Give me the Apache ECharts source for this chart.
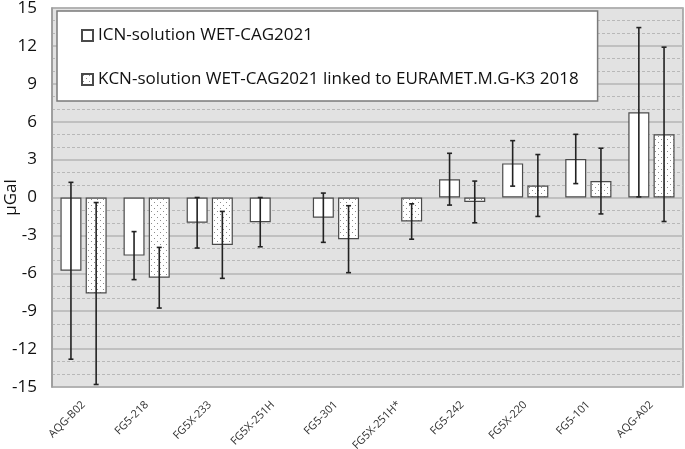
<!DOCTYPE html>
<html>
<head>
<meta charset="utf-8">
<script src="https://cdn.jsdelivr.net/npm/echarts@6/dist/echarts.min.js"></script>
<style>
  html, body { margin: 0; padding: 0; background: #fff; }
  #chart { width: 685px; height: 449px; }
</style>
</head>
<body>
<div id="chart"></div>
<script>
// gravimeters
const categories = ['AQG-B02', 'FG5-218', 'FG5X-233', 'FG5X-251H', 'FG5-301', 'FG5X-251H*', 'FG5-242', 'FG5X-220', 'FG5-101', 'AQG-A02'];
// ICN solution: offsets and uncertainties (µGal)
const icnValues = [-5.8, -4.6, -2.0, -1.95, -1.6, null, 1.45, 2.7, 3.05, 6.75];
const icnErrors = [7.0, 1.9, 2.0, 1.95, 1.95, null, 2.05, 1.8, 1.95, 6.7];
// KCN solution linked to EURAMET.M.G-K3 2018
const kcnValues = [-7.6, -6.35, -3.75, null, -3.3, -1.9, -0.35, 0.95, 1.3, 5.0];
const kcnErrors = [7.2, 2.4, 2.65, null, 2.65, 1.4, 1.65, 2.45, 2.6, 6.9];

const icnName = 'ICN-solution WET-CAG2021';
const kcnName = 'KCN-solution WET-CAG2021 linked to EURAMET.M.G-K3 2018';

const barW = 21;
const barShift = 12.6;  // half of barWidth + half gap

// dotted fill like the excel pattern
const dots = document.createElement('canvas');
dots.width = 6; dots.height = 6;
const dctx = dots.getContext('2d');
dctx.fillStyle = '#fff';
dctx.fillRect(0, 0, 6, 6);
dctx.fillStyle = '#8c8c8c';
dctx.fillRect(1, 1, 1, 1);
dctx.fillRect(4, 4, 1, 1);

const errData = (vals, errs) => vals.map((v, i) => v == null ? [i, null, null] : [i, v - errs[i], v + errs[i]]);

const errSeries = (vals, errs, shift) => ({
  type: 'custom',
  silent: true,
  z: 5,
  data: errData(vals, errs),
  renderItem: (params, api) => {
    if (api.value(1) == null || isNaN(api.value(1))) return;
    const lo = api.coord([api.value(0), api.value(1)]);
    const hi = api.coord([api.value(0), api.value(2)]);
    const x = lo[0] + shift;
    const cap = 2.5;
    const st = { stroke: '#222', lineWidth: 1.6 };
    return {
      type: 'group',
      children: [
        { type: 'line', shape: { x1: x, y1: lo[1], x2: x, y2: hi[1] }, style: st },
        { type: 'line', shape: { x1: x - cap, y1: lo[1], x2: x + cap, y2: lo[1] }, style: st },
        { type: 'line', shape: { x1: x - cap, y1: hi[1], x2: x + cap, y2: hi[1] }, style: st }
      ]
    };
  }
});

const chart = echarts.init(document.getElementById('chart'));
chart.setOption({
  animation: false,
  textStyle: { fontFamily: 'Open Sans' },
  grid: {
    left: 52, right: 2, top: 8, bottom: 62,
    outerBoundsMode: 'none',
    containLabel: false,
    show: true,
    backgroundColor: '#e2e2e2',
    borderColor: '#9a9a9a',
    borderWidth: 1.5
  },
  legend: {
    orient: 'vertical',
    left: 57,
    top: 11,
    data: [icnName, kcnName],
    icon: 'rect',
    backgroundColor: '#fff',
    borderColor: '#7a7a7a',
    borderWidth: 1.5,
    padding: [16, 19, 13, 24],
    itemGap: 27,
    itemWidth: 11,
    itemHeight: 11,
    selectedMode: false,
    textStyle: { fontSize: 17, color: '#111', fontFamily: 'Open Sans' }
  },
  xAxis: {
    type: 'category',
    data: categories,
    axisLine: { show: false },
    axisTick: { show: false },
    axisLabel: { rotate: 45, fontSize: 11, color: '#333', margin: 16, interval: 0 }
  },
  yAxis: {
    type: 'value',
    min: -15, max: 15, interval: 3,
    name: 'µGal',
    nameLocation: 'middle',
    nameGap: 32,
    nameMoveOverlap: false,
    nameTextStyle: { fontSize: 17, color: '#111' },
    axisLine: { show: true, lineStyle: { color: '#9a9a9a', width: 1.5 } },
    axisTick: { show: false },
    axisLabel: { fontSize: 17, color: '#111', margin: 15 },
    splitLine: { lineStyle: { color: '#b4b4b4', width: 1.6 } },
    minorTick: { show: false, splitNumber: 3 },
    minorSplitLine: { show: true, lineStyle: { color: '#b8b8b8', width: 1, type: [3, 2] } }
  },
  series: [
    {
      name: icnName,
      type: 'bar',
      data: icnValues,
      barWidth: barW,
      barGap: '20%',
      itemStyle: { color: '#fff', borderColor: '#4a4a4a', borderWidth: 1.2 }
    },
    {
      name: kcnName,
      type: 'bar',
      data: kcnValues,
      barWidth: barW,
      itemStyle: { color: { image: dots, repeat: 'repeat' }, borderColor: '#4a4a4a', borderWidth: 1.2 }
    },
    errSeries(icnValues, icnErrors, -barShift),
    errSeries(kcnValues, kcnErrors, barShift)
  ]
});
</script>
</body>
</html>
